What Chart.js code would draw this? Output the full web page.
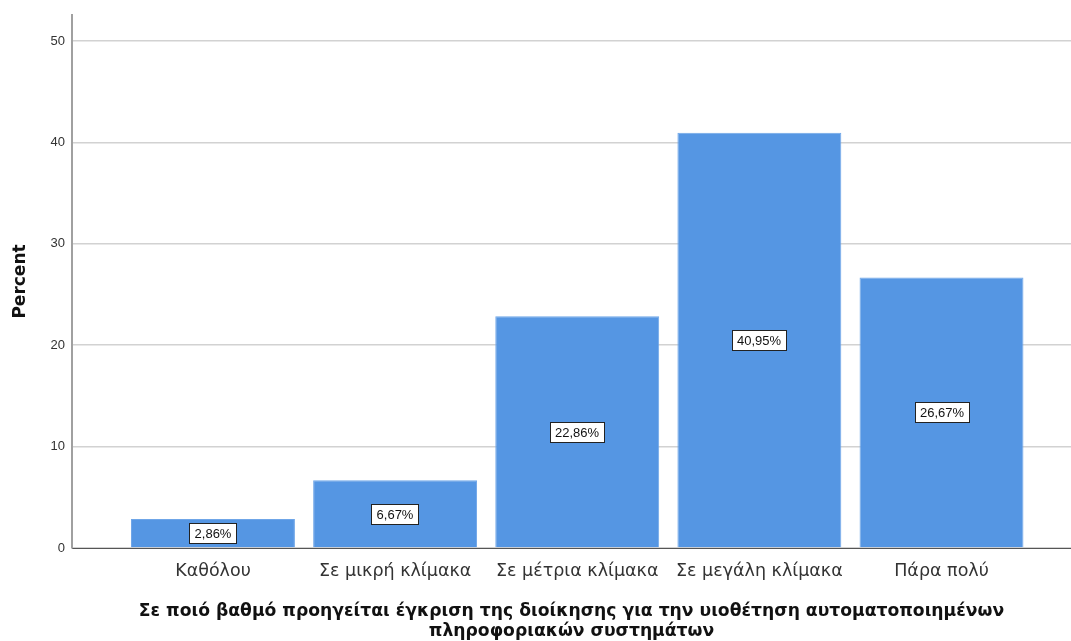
<!DOCTYPE html>
<html>
<head>
<meta charset="utf-8">
<script src="https://cdn.jsdelivr.net/npm/chart.js@4.4.1/dist/chart.umd.min.js"></script>
<style>
  html, body { margin: 0; padding: 0; background: #fff; }
  #wrap { width: 1071px; height: 641px; overflow: hidden; position: relative; }
  canvas { display: block; }
</style>
</head>
<body>
<div id="wrap"><canvas id="c" width="1071" height="650"></canvas></div>
<script>
const categories = ['Καθόλου', 'Σε μικρή κλίμακα', 'Σε μέτρια κλίμακα', 'Σε μεγάλη κλίμακα', 'Πάρα πολύ'];
const percents = [2.86, 6.67, 22.86, 40.95, 26.67];
const yTicks = [0, 10, 20, 30, 40, 50];
const xTitle = ['Σε ποιό βαθμό προηγείται έγκριση της διοίκησης για την υιοθέτηση αυτοματοποιημένων',
                'πληροφοριακών συστημάτων'];
const yTitle = 'Percent';

const FONT = "'Liberation Sans', Arial, sans-serif";
const WIDE = "'DejaVu Sans', Verdana, sans-serif";

// Boxed percentage label in the middle of each bar
const barLabels = {
  id: 'barLabels',
  afterDatasetsDraw(chart) {
    const ctx = chart.ctx;
    const meta = chart.getDatasetMeta(0);
    ctx.save();
    ctx.font = '13px ' + FONT;
    ctx.textAlign = 'center';
    ctx.textBaseline = 'middle';
    meta.data.forEach((bar, i) => {
      const text = percents[i].toFixed(2).replace('.', ',') + '%';
      const cx = Math.round(bar.x);
      const cy = Math.round((bar.y + bar.base) / 2);
      const w = Math.round(ctx.measureText(text).width) + 10;
      const h = 20;
      const x0 = cx - Math.round(w / 2) + 0.5, y0 = cy - h / 2 + 0.5;
      ctx.fillStyle = '#ffffff';
      ctx.fillRect(x0, y0, w, h);
      ctx.strokeStyle = '#222222';
      ctx.lineWidth = 1;
      ctx.strokeRect(x0, y0, w, h);
      ctx.fillStyle = '#111111';
      ctx.fillText(text, cx, cy + 1);
    });
    ctx.restore();
  }
};

new Chart(document.getElementById('c'), {
  type: 'bar',
  data: {
    datasets: [{
      data: percents.map((v, i) => ({ x: i, y: v })),
      backgroundColor: '#5596e3',
      borderColor: '#6fa6e8',
      borderWidth: 1,
      categoryPercentage: 0.9,
      barPercentage: 1.0
    }]
  },
  options: {
    responsive: false,
    animation: false,
    devicePixelRatio: 1,
    layout: { padding: { top: 15, right: 0, bottom: 0, left: 0 } },
    plugins: { legend: { display: false }, tooltip: { enabled: false } },
    scales: {
      x: {
        type: 'linear',
        bounds: 'data',
        min: -0.774,
        max: 4.711,
        offset: false,
        afterBuildTicks: (axis) => { axis.ticks = categories.map((_, i) => ({ value: i })); },
        afterFit: (axis) => { axis.height = 102; },
        ticks: {
          autoSkip: false,
          maxRotation: 0,
          padding: 13,
          color: '#333333',
          font: { family: WIDE, size: 17.5 },
          callback: (v) => categories[v] ?? ''
        },
        grid: { display: false, drawTicks: false },
        border: { display: true, color: '#555555', width: 1 },
        title: {
          display: true,
          text: xTitle,
          color: '#111111',
          font: { family: WIDE, size: 17.2, weight: 'bold', lineHeight: 1.18 },
          padding: { top: 0, bottom: 8 }
        }
      },
      y: {
        type: 'linear',
        bounds: 'data',
        min: 0,
        max: 52.56,
        afterBuildTicks: (axis) => { axis.ticks = yTicks.map(v => ({ value: v })); },
        afterFit: (axis) => { axis.width = 72; },
        ticks: {
          padding: 7,
          color: '#333333',
          font: { family: FONT, size: 13 }
        },
        grid: { color: '#d2d2d2', lineWidth: 1.5, drawTicks: false },
        border: { display: true, color: '#a0a0a0', width: 2 },
        title: {
          display: true,
          text: yTitle,
          color: '#111111',
          font: { family: WIDE, size: 17, weight: 'bold' },
          padding: { top: 10, bottom: 0 }
        }
      }
    }
  },
  plugins: [barLabels]
});
</script>
</body>
</html>
